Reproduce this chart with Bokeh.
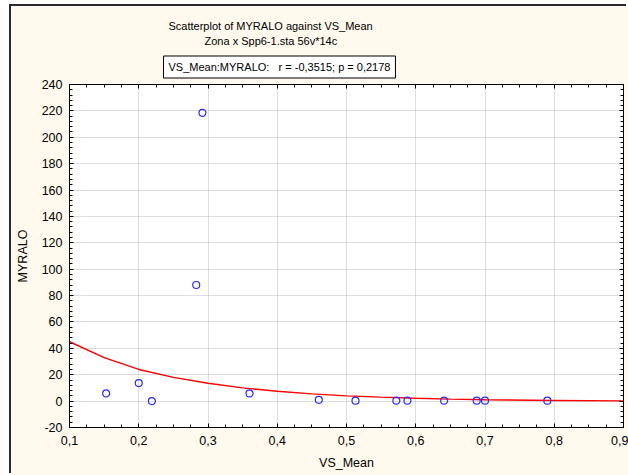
from bokeh.plotting import figure
from bokeh.models import (Range1d, SingleIntervalTicker, CustomJSTickFormatter, LinearAxis, Title)
from bokeh.embed import file_html
from bokeh.resources import INLINE

# data
vs_mean = [0.153, 0.200, 0.219, 0.283, 0.292, 0.360, 0.460, 0.513, 0.572, 0.588, 0.641, 0.688, 0.700, 0.790]
myralo = [5.8, 13.7, 0.0, 88.0, 218.5, 5.8, 1.0, 0.3, 0.3, 0.3, 0.3, 0.3, 0.3, 0.3]

fit_x = [0.10, 0.15, 0.20, 0.25, 0.30, 0.35, 0.40, 0.45, 0.50, 0.55, 0.60, 0.65, 0.70, 0.80, 0.90]
fit_y = [45.0, 33.0, 24.0, 18.0, 13.5, 10.0, 7.5, 5.5, 4.0, 3.0, 2.2, 1.5, 1.0, 0.5, 0.2]

title1 = "Scatterplot of MYRALO against VS_Mean"
title2 = "Zona x Spp6-1.sta 56v*14c"
title3 = "VS_Mean:MYRALO:\u00a0\u00a0 r = -0,3515; p = 0,2178"
x_label = "VS_Mean"
y_label = "MYRALO"

FONT = "Liberation Sans"
FS = "12.5px"
TFS = "11px"
CREAM = "#fff9ee"

p = figure(frame_width=554, frame_height=343,
           min_border_left=58, min_border_right=5, min_border_top=78, min_border_bottom=48,
           x_range=Range1d(0.1, 0.9), y_range=Range1d(-20, 240),
           output_backend="svg", toolbar_location=None,
           x_axis_location=None, y_axis_location=None,
           background_fill_color="white", border_fill_color=CREAM,
           margin=(6, 0, 0, 11))
p.styles = {"box-shadow": "-2px -2px 0 0 #2b2b2b"}
p.outline_line_color = "black"
p.outline_line_width = 1

xt = SingleIntervalTicker(interval=0.1, num_minor_ticks=4)
yt = SingleIntervalTicker(interval=20, num_minor_ticks=5)
xf = CustomJSTickFormatter(code="return tick.toFixed(1).replace('.', ',');")
yf = CustomJSTickFormatter(code="return tick.toFixed(0);")
blank = CustomJSTickFormatter(code="return '';")


def style_axis(ax):
    ax.axis_line_color = "black"
    ax.major_tick_in = 4
    ax.major_tick_out = 0
    ax.minor_tick_in = 3
    ax.minor_tick_out = 0
    ax.major_tick_line_color = "black"
    ax.minor_tick_line_color = "black"
    ax.major_label_text_font = FONT
    ax.major_label_text_font_size = FS
    ax.major_label_text_color = "black"
    ax.axis_label_text_font = FONT
    ax.axis_label_text_font_size = FS
    ax.axis_label_text_font_style = "normal"
    ax.axis_label_text_color = "black"


xb = LinearAxis(ticker=xt, formatter=xf, axis_label=x_label)
style_axis(xb)
xb.major_label_standoff = 8
xb.axis_label_standoff = 8
p.add_layout(xb, "below")

yl = LinearAxis(ticker=yt, formatter=yf, axis_label=y_label)
style_axis(yl)
yl.major_label_standoff = 7
yl.axis_label_standoff = 9
p.add_layout(yl, "left")

xa = LinearAxis(ticker=xt, formatter=blank)
style_axis(xa)
xa.major_label_standoff = 0
p.add_layout(xa, "above")

yr = LinearAxis(ticker=yt, formatter=blank)
style_axis(yr)
yr.major_label_standoff = 0
p.add_layout(yr, "right")

p.xgrid.ticker = xt
p.ygrid.ticker = yt
for g in (p.xgrid, p.ygrid):
    g.grid_line_color = "#bdbdbd"
    g.grid_line_dash = "1 1"
    g.grid_line_width = 1

p.line(fit_x, fit_y, line_color="#ff0000", line_width=1.4)
p.scatter(vs_mean, myralo, marker="circle", size=7, fill_color=None,
          line_color="#2a2aff", line_width=1.2)

# title lines, stacked above the frame (later added = higher), left-aligned with offsets
t3 = Title(text=title3, align="left", offset=94, text_font=FONT, text_font_size=TFS,
           text_font_style="normal", text_color="black", standoff=13,
           border_line_color="black", border_line_width=1, background_fill_color="white",
           padding=5)
t2 = Title(text=title2, align="left", offset=135, text_font=FONT, text_font_size=TFS,
           text_font_style="normal", text_color="black", standoff=1)
t1 = Title(text=title1, align="left", offset=99, text_font=FONT, text_font_size=TFS,
           text_font_style="normal", text_color="black", standoff=2)
p.add_layout(t3, "above")
p.add_layout(t2, "above")
p.add_layout(t1, "above")

open("out.html", "w").write(file_html(p, INLINE))
